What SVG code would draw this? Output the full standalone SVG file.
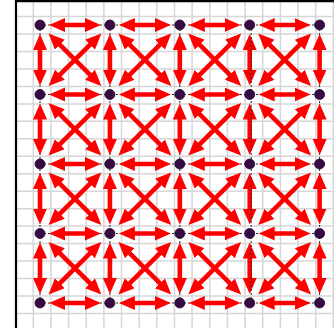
<svg xmlns="http://www.w3.org/2000/svg" width="334" height="328" viewBox="0 0 334 328">
<style>
.g{stroke:#d6d6d6;stroke-width:1.5;fill:none}
.e{stroke:#2a2a2a;stroke-width:1;stroke-dasharray:2 2;fill:none}
.a{stroke:#ff0000;stroke-width:4.6;fill:none;marker-start:url(#h);marker-end:url(#h)}
.n{fill:#360a42;stroke:#240530;stroke-width:0.8}
</style>
<defs>
<marker id="h" markerUnits="userSpaceOnUse" markerWidth="17" markerHeight="15" viewBox="0 0 17 15" refX="8" refY="7" orient="auto-start-reverse">
<path d="M0,0 L16,7 L0,14 z" fill="#ff0000"/>
</marker>
</defs>
<rect width="334" height="328" fill="#ffffff"/>
<g id="grid">
<path class="g" d="M33.3,2V328M50.9,2V328M68.6,2V328M86.2,2V328M103.9,2V328M121.5,2V328M139.2,2V328M156.8,2V328M174.5,2V328M192.1,2V328M209.8,2V328M227.4,2V328M245.1,2V328M262.7,2V328M280.4,2V328M298,2V328M315.7,2V328M333.3,2V328"/>
<path class="g" d="M16,16.5H334M16,34H334M16,51.4H334M16,68.9H334M16,86.4H334M16,103.9H334M16,121.3H334M16,138.8H334M16,156.3H334M16,173.7H334M16,191.2H334M16,208.7H334M16,226.1H334M16,243.6H334M16,261.1H334M16,278.6H334M16,296H334M16,313.5H334"/>
<path d="M16,0V328M15,1.2H334" stroke="#000" stroke-width="2.2" fill="none"/>
</g>
<g id="edges">
<path class="e" d="M40,25H319.6M40,94.5H319.6M40,164H319.6M40,233.5H319.6M40,303H319.6M40,25V303M109.9,25V303M179.8,25V303M319.6,25V303"/>
</g>
<g id="connectors">
<line class="a" x1="57" y1="25" x2="92.9" y2="25"/><line class="a" x1="126.9" y1="25" x2="162.8" y2="25"/><line class="a" x1="196.8" y1="25" x2="232.7" y2="25"/><line class="a" x1="266.7" y1="25" x2="302.6" y2="25"/>
<line class="a" x1="57" y1="94.5" x2="92.9" y2="94.5"/><line class="a" x1="126.9" y1="94.5" x2="162.8" y2="94.5"/><line class="a" x1="196.8" y1="94.5" x2="232.7" y2="94.5"/><line class="a" x1="266.7" y1="94.5" x2="302.6" y2="94.5"/>
<line class="a" x1="57" y1="164" x2="92.9" y2="164"/><line class="a" x1="126.9" y1="164" x2="162.8" y2="164"/><line class="a" x1="196.8" y1="164" x2="232.7" y2="164"/><line class="a" x1="266.7" y1="164" x2="302.6" y2="164"/>
<line class="a" x1="57" y1="233.5" x2="92.9" y2="233.5"/><line class="a" x1="126.9" y1="233.5" x2="162.8" y2="233.5"/><line class="a" x1="196.8" y1="233.5" x2="232.7" y2="233.5"/><line class="a" x1="266.7" y1="233.5" x2="302.6" y2="233.5"/>
<line class="a" x1="57" y1="303" x2="92.9" y2="303"/><line class="a" x1="126.9" y1="303" x2="162.8" y2="303"/><line class="a" x1="196.8" y1="303" x2="232.7" y2="303"/><line class="a" x1="266.7" y1="303" x2="302.6" y2="303"/>
<line class="a" x1="40" y1="42" x2="40" y2="77.5"/><line class="a" x1="40" y1="111.5" x2="40" y2="147"/><line class="a" x1="40" y1="181" x2="40" y2="216.5"/><line class="a" x1="40" y1="250.5" x2="40" y2="286"/>
<line class="a" x1="109.9" y1="42" x2="109.9" y2="77.5"/><line class="a" x1="109.9" y1="111.5" x2="109.9" y2="147"/><line class="a" x1="109.9" y1="181" x2="109.9" y2="216.5"/><line class="a" x1="109.9" y1="250.5" x2="109.9" y2="286"/>
<line class="a" x1="179.8" y1="42" x2="179.8" y2="77.5"/><line class="a" x1="179.8" y1="111.5" x2="179.8" y2="147"/><line class="a" x1="179.8" y1="181" x2="179.8" y2="216.5"/><line class="a" x1="179.8" y1="250.5" x2="179.8" y2="286"/>
<line class="a" x1="249.7" y1="42" x2="249.7" y2="77.5"/><line class="a" x1="249.7" y1="111.5" x2="249.7" y2="147"/><line class="a" x1="249.7" y1="181" x2="249.7" y2="216.5"/><line class="a" x1="249.7" y1="250.5" x2="249.7" y2="286"/>
<line class="a" x1="319.6" y1="42" x2="319.6" y2="77.5"/><line class="a" x1="319.6" y1="111.5" x2="319.6" y2="147"/><line class="a" x1="319.6" y1="181" x2="319.6" y2="216.5"/><line class="a" x1="319.6" y1="250.5" x2="319.6" y2="286"/>
<line class="a" x1="54.2" y1="39.1" x2="95.7" y2="80.4"/><line class="a" x1="124.1" y1="39.1" x2="165.6" y2="80.4"/><line class="a" x1="194" y1="39.1" x2="235.5" y2="80.4"/><line class="a" x1="263.9" y1="39.1" x2="305.4" y2="80.4"/>
<line class="a" x1="54.2" y1="108.6" x2="95.7" y2="149.9"/><line class="a" x1="124.1" y1="108.6" x2="165.6" y2="149.9"/><line class="a" x1="194" y1="108.6" x2="235.5" y2="149.9"/><line class="a" x1="263.9" y1="108.6" x2="305.4" y2="149.9"/>
<line class="a" x1="54.2" y1="178.1" x2="95.7" y2="219.4"/><line class="a" x1="124.1" y1="178.1" x2="165.6" y2="219.4"/><line class="a" x1="194" y1="178.1" x2="235.5" y2="219.4"/><line class="a" x1="263.9" y1="178.1" x2="305.4" y2="219.4"/>
<line class="a" x1="54.2" y1="247.6" x2="95.7" y2="288.9"/><line class="a" x1="124.1" y1="247.6" x2="165.6" y2="288.9"/><line class="a" x1="194" y1="247.6" x2="235.5" y2="288.9"/><line class="a" x1="263.9" y1="247.6" x2="305.4" y2="288.9"/>
<line class="a" x1="95.7" y1="39.1" x2="54.2" y2="80.4"/><line class="a" x1="165.6" y1="39.1" x2="124.1" y2="80.4"/><line class="a" x1="235.5" y1="39.1" x2="194" y2="80.4"/><line class="a" x1="305.4" y1="39.1" x2="263.9" y2="80.4"/>
<line class="a" x1="95.7" y1="108.6" x2="54.2" y2="149.9"/><line class="a" x1="165.6" y1="108.6" x2="124.1" y2="149.9"/><line class="a" x1="235.5" y1="108.6" x2="194" y2="149.9"/><line class="a" x1="305.4" y1="108.6" x2="263.9" y2="149.9"/>
<line class="a" x1="95.7" y1="178.1" x2="54.2" y2="219.4"/><line class="a" x1="165.6" y1="178.1" x2="124.1" y2="219.4"/><line class="a" x1="235.5" y1="178.1" x2="194" y2="219.4"/><line class="a" x1="305.4" y1="178.1" x2="263.9" y2="219.4"/>
<line class="a" x1="95.7" y1="247.6" x2="54.2" y2="288.9"/><line class="a" x1="165.6" y1="247.6" x2="124.1" y2="288.9"/><line class="a" x1="235.5" y1="247.6" x2="194" y2="288.9"/><line class="a" x1="305.4" y1="247.6" x2="263.9" y2="288.9"/>
</g>
<g id="edges-top">
<path class="e" d="M251.2,25V303"/>
</g>
<g id="nodes">
<g id="n00"><circle class="n" cx="40" cy="25" r="5"/></g>
<g id="n10"><circle class="n" cx="109.9" cy="25" r="5"/></g>
<g id="n20"><circle class="n" cx="179.8" cy="25" r="5"/></g>
<g id="n30"><circle class="n" cx="249.7" cy="25" r="5"/></g>
<g id="n40"><circle class="n" cx="319.6" cy="25" r="5"/></g>
<g id="n01"><circle class="n" cx="40" cy="94.5" r="5"/></g>
<g id="n11"><circle class="n" cx="109.9" cy="94.5" r="5"/></g>
<g id="n21"><circle class="n" cx="179.8" cy="94.5" r="5"/></g>
<g id="n31"><circle class="n" cx="249.7" cy="94.5" r="5"/></g>
<g id="n41"><circle class="n" cx="319.6" cy="94.5" r="5"/></g>
<g id="n02"><circle class="n" cx="40" cy="164" r="5"/></g>
<g id="n12"><circle class="n" cx="109.9" cy="164" r="5"/></g>
<g id="n22"><circle class="n" cx="179.8" cy="164" r="5"/></g>
<g id="n32"><circle class="n" cx="249.7" cy="164" r="5"/></g>
<g id="n42"><circle class="n" cx="319.6" cy="164" r="5"/></g>
<g id="n03"><circle class="n" cx="40" cy="233.5" r="5"/></g>
<g id="n13"><circle class="n" cx="109.9" cy="233.5" r="5"/></g>
<g id="n23"><circle class="n" cx="179.8" cy="233.5" r="5"/></g>
<g id="n33"><circle class="n" cx="249.7" cy="233.5" r="5"/></g>
<g id="n43"><circle class="n" cx="319.6" cy="233.5" r="5"/></g>
<g id="n04"><circle class="n" cx="40" cy="303" r="5"/></g>
<g id="n14"><circle class="n" cx="109.9" cy="303" r="5"/></g>
<g id="n24"><circle class="n" cx="179.8" cy="303" r="5"/></g>
<g id="n34"><circle class="n" cx="249.7" cy="303" r="5"/></g>
<g id="n44"><circle class="n" cx="319.6" cy="303" r="5"/></g>
</g>
</svg>
